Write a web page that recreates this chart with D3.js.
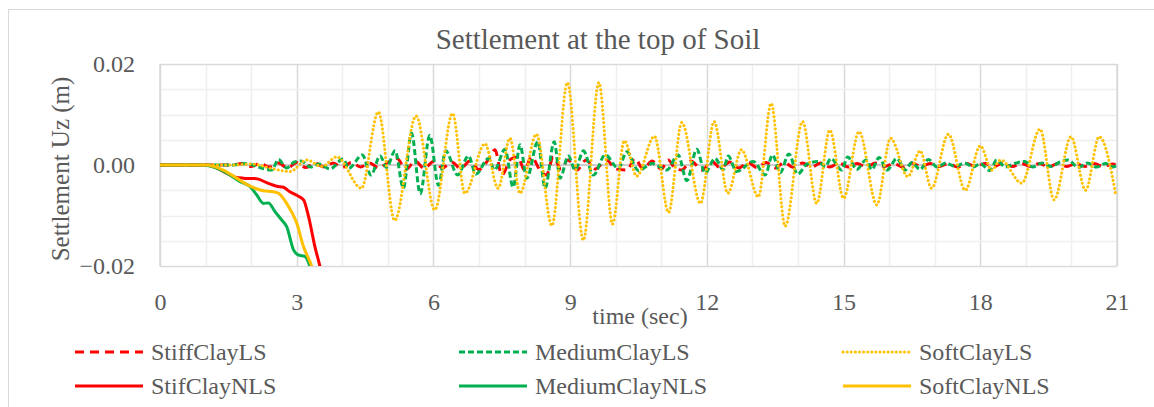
<!DOCTYPE html>
<html>
<head>
<meta charset="utf-8">
<script src="https://cdn.jsdelivr.net/npm/d3@7"></script>
<style>
  body { margin: 0; background: #fff; }
  text { font-family: "Liberation Serif", "DejaVu Serif", serif; fill: #595959; }
</style>
</head>
<body>
<script>
// values: [time (sec), settlement (m)]
var stiffLS = [[0,0],[1.0,0],[1.6,0],[1.8,0.0003],[2.0,-0.0003],[2.2,0.0003],[2.4,-0.0004],[2.6,0.0004],[2.8,-0.0006],[3.0,0.0005],[3.2,-0.0005],[3.4,0.0004],[3.6,-0.0004],[3.8,0.0004],[4.0,-0.0005],[4.2,0.0005],[4.4,-0.0004],[4.6,0.0004],[4.8,-0.0006],[5.0,0.0005],[5.2,0.0013],[5.4,-0.0009],[5.6,0.0008],[5.8,-0.0007],[6.0,0.0007],[6.2,-0.0006],[6.4,0.0006],[6.6,-0.0007],[6.8,0.0008],[7.0,-0.0009],[7.2,0.001],[7.35,0.003],[7.5,-0.002],[7.7,0.0012],[7.85,0.0016],[8.0,-0.001],[8.15,0.0016],[8.35,-0.0012],[8.48,-0.002],[8.63,0.0016],[8.8,-0.0008],[8.95,0.001],[9.15,-0.001],[9.35,0.001],[9.55,-0.0008],[9.8,0.001],[10.0,-0.0008],[10.25,-0.001],[10.42,0.0013],[10.6,-0.0008],[10.8,0.0008],[11.0,-0.0008],[11.15,0.001],[11.3,-0.0006],[11.45,-0.001],[11.65,0.0008],[11.9,-0.001],[12.1,0.0008],[12.3,-0.0006],[12.5,0.0006],[12.7,-0.0006],[12.9,0.0005],[13.1,-0.0005],[13.3,0.0005],[13.5,-0.0006],[13.7,0.0005],[13.9,-0.0005],[14.1,0.0004],[14.3,-0.0004],[14.5,0.0004],[14.7,-0.0004],[14.9,0.0004],[15.1,-0.0004],[15.3,0.0003],[15.5,-0.0004],[15.7,0.0004],[15.9,-0.0003],[16.1,0.0003],[16.3,-0.0004],[16.5,0.0004],[16.7,-0.0003],[16.9,0.0003],[17.1,-0.0003],[17.3,0.0003],[17.5,-0.0004],[17.7,0.0003],[17.9,-0.0003],[18.1,0.0003],[18.3,-0.0003],[18.5,0.0004],[18.7,-0.0003],[18.9,0.0003],[19.1,-0.0003],[19.3,0.0003],[19.5,-0.0004],[19.7,0.0003],[19.9,-0.0003],[20.1,0.0003],[20.3,-0.0003],[20.5,0.0003],[20.7,-0.0003],[20.9,0.0002],[21,0]];
var mediumLS = [[0,0],[1.0,0],[1.6,0],[1.9,0.0003],[2.15,-0.0004],[2.45,-0.001],[2.6,0.0011],[2.78,-0.0006],[2.95,0.0006],[3.1,0.0008],[3.3,-0.0004],[3.5,0.0002],[3.73,-0.0008],[4.02,0.0012],[4.14,-0.0007],[4.44,0.002],[4.63,-0.002],[4.83,0.0018],[4.97,-0.0005],[5.16,0.0028],[5.34,-0.0046],[5.52,0.0063],[5.71,-0.0057],[5.92,0.0059],[6.11,-0.004],[6.27,0.0028],[6.53,-0.002],[6.77,0.0018],[6.93,-0.0018],[7.21,0.0013],[7.34,-0.001],[7.57,0.0031],[7.75,-0.0044],[7.9,0.004],[8.05,-0.0026],[8.29,0.0046],[8.45,-0.0046],[8.65,0.0046],[8.78,-0.0026],[8.96,0.0018],[9.11,-0.001],[9.29,0.0028],[9.51,-0.002],[9.77,0.002],[10.06,-0.0007],[10.24,0.0026],[10.5,-0.0011],[10.8,0.0003],[11.12,-0.001],[11.37,0.002],[11.56,-0.0031],[11.78,0.0031],[11.96,-0.0016],[12.18,0.0013],[12.36,-0.0009],[12.47,0.0018],[12.65,-0.0013],[13.02,0.0007],[13.28,-0.002],[13.44,0.002],[13.61,-0.0015],[13.8,0.0022],[13.99,-0.0018],[14.2,0.0002],[14.45,0.0007],[14.6,-0.0003],[14.72,0.0013],[14.96,-0.001],[15.09,0.0016],[15.29,-0.0009],[15.49,0.001],[15.62,-0.0009],[15.78,0.0015],[15.95,-0.001],[16.17,0.0013],[16.35,-0.001],[16.5,0.0005],[16.68,-0.0009],[16.86,0.0011],[17.05,-0.0004],[17.25,0.0004],[17.45,-0.0003],[17.65,0.0004],[17.85,-0.0004],[18.0,0.0003],[18.21,-0.0011],[18.36,0.001],[18.55,-0.0004],[18.75,0.0003],[18.98,0.0007],[19.15,-0.0004],[19.35,0.0004],[19.55,-0.0003],[19.75,0.0006],[19.93,0.001],[20.15,-0.0005],[20.35,0.0004],[20.55,-0.0004],[20.75,0.0003],[20.9,-0.0004],[21,-0.0001]];
var softLS = [[0,0],[1.0,0],[1.6,0],[2.0,0.0002],[2.5,-0.0008],[2.85,-0.0013],[3.22,0.001],[3.55,-0.0003],[3.88,0.0016],[4.42,-0.0046],[4.79,0.0105],[5.15,-0.011],[5.62,0.0097],[6.03,-0.0089],[6.42,0.0102],[6.69,-0.0056],[7.13,0.0042],[7.42,-0.0046],[7.68,0.0053],[7.9,-0.0056],[8.26,0.0061],[8.6,-0.012],[8.94,0.0163],[9.29,-0.0149],[9.63,0.0163],[9.93,-0.0117],[10.19,0.0048],[10.46,-0.0022],[10.85,0.0057],[11.16,-0.0094],[11.45,0.0084],[11.86,-0.0076],[12.16,0.0086],[12.46,-0.0056],[12.76,0.003],[13.13,-0.0063],[13.41,0.0122],[13.72,-0.0121],[14.1,0.0086],[14.41,-0.0076],[14.7,0.0069],[15.0,-0.0066],[15.34,0.0066],[15.73,-0.0079],[16.03,0.0053],[16.41,-0.0023],[16.68,0.0028],[16.93,-0.0046],[17.3,0.0061],[17.67,-0.005],[18.0,0.0038],[18.25,-0.001],[18.45,0.001],[18.91,-0.0036],[19.31,0.0071],[19.62,-0.0069],[19.99,0.0056],[20.31,-0.005],[20.61,0.0056],[20.98,-0.0062]];
var stiffNLS = [[0,0],[0.99,0],[1.2,-0.0004],[1.46,-0.0016],[1.65,-0.0024],[1.83,-0.0026],[2.12,-0.0027],[2.34,-0.0035],[2.56,-0.0042],[2.71,-0.0044],[2.85,-0.0053],[3.0,-0.006],[3.15,-0.0069],[3.26,-0.0102],[3.4,-0.0162],[3.51,-0.0201],[3.6,-0.024]];
var mediumNLS = [[0,0],[0.9,0],[1.32,-0.0009],[1.54,-0.002],[1.76,-0.0033],[1.98,-0.0043],[2.12,-0.0059],[2.27,-0.0076],[2.38,-0.0075],[2.52,-0.0092],[2.67,-0.0109],[2.78,-0.0122],[2.93,-0.0168],[3.03,-0.0178],[3.18,-0.0181],[3.29,-0.0201],[3.4,-0.024]];
var softNLS = [[0,0],[0.99,0],[1.39,-0.001],[1.68,-0.0026],[1.98,-0.0042],[2.27,-0.0051],[2.49,-0.0053],[2.6,-0.0056],[2.78,-0.0076],[3.0,-0.0115],[3.15,-0.0162],[3.33,-0.0201],[3.45,-0.024]];

var seriesNames = ["StiffClayLS", "MediumClayLS", "SoftClayLS", "StifClayNLS", "MediumClayNLS", "SoftClayNLS"];
var xTicks = [0, 3, 6, 9, 12, 15, 18, 21];
var yTicks = [-0.02, 0, 0.02];

var width = 1154, height = 407;
var pLeft = 160, pRight = 1117, pTop = 64, pBottom = 266;

var styles = [
  { data: stiffLS,   color: "#FF0000", dash: "9,6",   cap: "butt" },
  { data: mediumLS,  color: "#00B050", dash: "6,3",   cap: "butt" },
  { data: softLS,    color: "#FFC000", dash: "0.1,4", cap: "round" },
  { data: stiffNLS,  color: "#FF0000", dash: null,    cap: "butt" },
  { data: mediumNLS, color: "#00B050", dash: null,    cap: "butt" },
  { data: softNLS,   color: "#FFC000", dash: null,    cap: "butt" }
];

var svg = d3.select("body").append("svg")
  .attr("width", width)
  .attr("height", height);

svg.append("rect")
  .attr("x", 8.5).attr("y", 9.5)
  .attr("width", width + 20).attr("height", height + 20)
  .attr("fill", "#fff").attr("stroke", "#d9d9d9").attr("stroke-width", 1);

var x = d3.scaleLinear().domain([0, 21]).range([pLeft, pRight]);
var y = d3.scaleLinear().domain([-0.02, 0.02]).range([pBottom, pTop]);

// grid: every second, darker every 3 s
svg.append("g").selectAll("line")
  .data(d3.range(0, 22))
  .enter().append("line")
  .attr("x1", function(d) { return Math.round(x(d)) + 0.5; })
  .attr("x2", function(d) { return Math.round(x(d)) + 0.5; })
  .attr("y1", pTop).attr("y2", pBottom)
  .attr("stroke", function(d) { return d % 3 == 0 ? "#d9d9d9" : "#efefef"; })
  .attr("stroke-width", 1.5);

svg.append("g").selectAll("line")
  .data(d3.range(-4, 5))
  .enter().append("line")
  .attr("x1", pLeft).attr("x2", pRight)
  .attr("y1", function(d) { return Math.round(y(d * 0.005)) + 0.5; })
  .attr("y2", function(d) { return Math.round(y(d * 0.005)) + 0.5; })
  .attr("stroke", function(d) { return (d == 4 || d == -4) ? "#d9d9d9" : "#efefef"; })
  .attr("stroke-width", 1.5);

// plot border + zero line
svg.append("line").attr("x1", pLeft).attr("x2", pLeft).attr("y1", pTop).attr("y2", pBottom)
  .attr("stroke", "#d9d9d9").attr("stroke-width", 1.5);
svg.append("line").attr("x1", pRight).attr("x2", pRight).attr("y1", pTop).attr("y2", pBottom)
  .attr("stroke", "#d9d9d9").attr("stroke-width", 1.5);
svg.append("line").attr("x1", pLeft).attr("x2", pRight)
  .attr("y1", y(0)).attr("y2", y(0))
  .attr("stroke", "#bfbfbf").attr("stroke-width", 1.5);

// tick labels
var yAxis = d3.axisLeft(y).tickValues(yTicks).tickSize(0).tickPadding(25).tickFormat(d3.format(".2f"));
var gy = svg.append("g").attr("transform", "translate(" + pLeft + ",0)").call(yAxis);
gy.select(".domain").remove();
gy.selectAll("text").style("font-size", "24px").style("font-family", "Liberation Serif").attr("fill", "#595959");

var xAxis = d3.axisBottom(x).tickValues(xTicks).tickSize(0).tickPadding(27);
var gx = svg.append("g").attr("transform", "translate(0," + pBottom + ")").call(xAxis);
gx.select(".domain").remove();
gx.selectAll("text").style("font-size", "24px").style("font-family", "Liberation Serif").attr("fill", "#595959");

// series
svg.append("clipPath").attr("id", "plotclip")
  .append("rect").attr("x", pLeft).attr("y", pTop)
  .attr("width", pRight - pLeft).attr("height", pBottom - pTop);

var line = d3.line()
  .x(function(d) { return x(d[0]); })
  .y(function(d) { return y(d[1]); })
  .curve(d3.curveMonotoneX);

var plot = svg.append("g").attr("clip-path", "url(#plotclip)");
styles.forEach(function(s) {
  plot.append("path")
    .attr("d", line(s.data))
    .attr("fill", "none")
    .attr("stroke", s.color)
    .attr("stroke-width", 3)
    .attr("stroke-linecap", s.cap)
    .attr("stroke-linejoin", "round")
    .attr("stroke-dasharray", s.dash);
});

// titles
svg.append("text").attr("x", 598).attr("y", 49)
  .attr("text-anchor", "middle").style("font-size", "29px")
  .text("Settlement at the top of Soil");

svg.append("text").attr("x", 640).attr("y", 324)
  .attr("text-anchor", "middle").style("font-size", "24px")
  .text("time (sec)");

svg.append("text")
  .attr("transform", "translate(69,169) rotate(-90)")
  .attr("text-anchor", "middle").style("font-size", "25px")
  .text("Settlement Uz (m)");

// legend
var legend = svg.append("g");
styles.forEach(function(s, i) {
  var col = i % 3, row = Math.floor(i / 3);
  var lx = 75 + col * 384, ly = 352 + row * 34;
  legend.append("line")
    .attr("x1", lx).attr("x2", lx + 68)
    .attr("y1", ly).attr("y2", ly)
    .attr("stroke", s.color).attr("stroke-width", 3)
    .attr("stroke-linecap", s.cap)
    .attr("stroke-dasharray", s.dash);
  legend.append("text")
    .attr("x", lx + 76).attr("y", ly + 8)
    .style("font-size", "24px")
    .text(seriesNames[i]);
});
</script>
</body>
</html>
